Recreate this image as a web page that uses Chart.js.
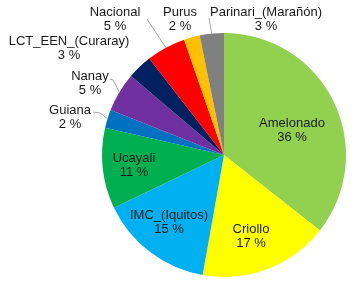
<!DOCTYPE html>
<html lang="es">
<head>
<meta charset="UTF-8">
<title>Variedades de cacao</title>
<script src="https://cdn.jsdelivr.net/npm/chart.js"></script>
<style>
    html, body { margin: 0; padding: 0; background: #fff; }
    #wrap { width: 360px; height: 282px; position: relative; }
</style>
</head>
<body>
<div id="wrap"><canvas id="grafica" width="360" height="282"></canvas></div>
<script>
    // datos
    const categorias = ['Amelonado', 'Criollo', 'IMC_(Iquitos)', 'Ucayali', 'Guiana', 'Nanay',
        'LCT_EEN_(Curaray)', 'Nacional', 'Purus', 'Parinari_(Marañón)'];
    const porcentajes = [35.6, 17.2, 15.1, 10.7, 2.4, 5.2, 3.3, 5.2, 2.1, 3.2];
    const etiquetas = ['36 %', '17 %', '15 %', '11 %', '2 %', '5 %', '3 %', '5 %', '2 %', '3 %'];
    const colores = ['#92D050', '#FFFF00', '#00B0F0', '#00B050', '#0070C0', '#7030A0',
        '#002060', '#FF0000', '#FFC000', '#808080'];

    // donde va cada etiqueta (centro de la primera linea) y si lleva linea guia
    const posEtiqueta = [
        { x: 292, y: 123 },
        { x: 251, y: 229 },
        { x: 169, y: 215 },
        { x: 134, y: 158 },
        { x: 70, y: 110, linea: [[93, 112], [100, 113]] },
        { x: 90, y: 76, linea: [[110, 79], [113, 80]] },
        { x: 69, y: 41 },
        { x: 115, y: 12, linea: [[147, 19]] },
        { x: 180, y: 12 },
        { x: 266, y: 12, linea: [[209, 18]] }
    ];

    const pluginEtiquetas = {
        id: 'etiquetas',
        afterDatasetsDraw(chart) {
            const ctx = chart.ctx;
            const arcos = chart.getDatasetMeta(0).data;
            ctx.save();
            ctx.font = '13px "Liberation Sans", Arial, sans-serif';
            ctx.textAlign = 'center';
            ctx.textBaseline = 'middle';
            arcos.forEach((arco, i) => {
                const p = arco.getProps(['x', 'y', 'startAngle', 'endAngle', 'outerRadius'], true);
                const medio = (p.startAngle + p.endAngle) / 2;
                const pos = posEtiqueta[i];
                if (pos.linea) {
                    const bx = p.x + Math.cos(medio) * p.outerRadius;
                    const by = p.y + Math.sin(medio) * p.outerRadius;
                    ctx.strokeStyle = '#a6a6a6';
                    ctx.lineWidth = 1;
                    ctx.beginPath();
                    ctx.moveTo(bx, by);
                    pos.linea.slice().reverse().forEach(pt => ctx.lineTo(pt[0], pt[1]));
                    ctx.stroke();
                }
                ctx.fillStyle = '#1a1a1a';
                ctx.fillText(categorias[i], pos.x, pos.y);
                ctx.fillText(etiquetas[i], pos.x, pos.y + 14.5);
            });
            ctx.restore();
        }
    };

    new Chart(document.getElementById('grafica'), {
        type: 'pie',
        data: {
            labels: categorias,
            datasets: [{
                data: porcentajes,
                backgroundColor: colores,
                borderWidth: 0
            }]
        },
        options: {
            responsive: false,
            animation: false,
            layout: { padding: { left: 102, right: 14, top: 33, bottom: 5 } },
            plugins: {
                legend: { display: false },
                tooltip: { enabled: false }
            }
        },
        plugins: [pluginEtiquetas]
    });
</script>
</body>
</html>
